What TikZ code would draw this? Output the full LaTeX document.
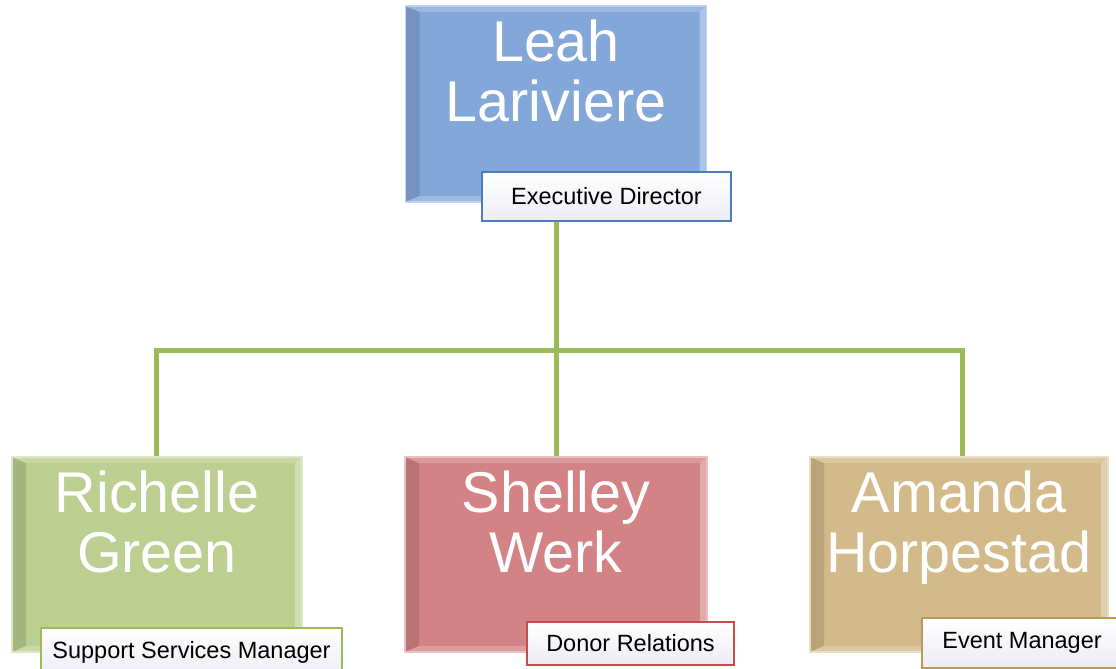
\documentclass[tikz,border=0pt]{standalone}
\usepackage{fontspec}
\setmainfont{Liberation Sans}
\usetikzlibrary{positioning}
\definecolor{leahblue}{HTML}{84A7DA}
\definecolor{richgreen}{HTML}{BCCE90}
\definecolor{shelred}{HTML}{D38385}
\definecolor{amantan}{HTML}{D2BA8A}
\definecolor{execline}{HTML}{4A7EBB}
\definecolor{suppline}{HTML}{9BBB59}
\definecolor{donorline}{HTML}{C0504D}
\definecolor{eventline}{HTML}{B89A5C}
\definecolor{linkgreen}{HTML}{9BBB59}
\definecolor{rolebottom}{HTML}{ECECF4}
\tikzset{
  person/.style={rectangle, minimum width=301pt, minimum height=196pt, inner sep=0pt,
    fill=#1, draw=#1!50!white, line width=1.2pt,
    path picture={
      \fill[#1!88!black] (path picture bounding box.south west) -- (path picture bounding box.north west)
        -- ([xshift=14pt,yshift=-6pt]path picture bounding box.north west)
        -- ([xshift=14pt,yshift=6pt]path picture bounding box.south west) -- cycle;
      \fill[#1!82!white] (path picture bounding box.north west) -- (path picture bounding box.north east)
        -- ([xshift=-7pt,yshift=-6pt]path picture bounding box.north east)
        -- ([xshift=14pt,yshift=-6pt]path picture bounding box.north west) -- cycle;
      \fill[#1!68!white] (path picture bounding box.north east) -- (path picture bounding box.south east)
        -- ([xshift=-7pt,yshift=6pt]path picture bounding box.south east)
        -- ([xshift=-7pt,yshift=-6pt]path picture bounding box.north east) -- cycle;
      \fill[#1!78!white] (path picture bounding box.south west) -- (path picture bounding box.south east)
        -- ([xshift=-7pt,yshift=6pt]path picture bounding box.south east)
        -- ([xshift=14pt,yshift=6pt]path picture bounding box.south west) -- cycle;
    }},
  nametext/.style={text=white, font=\fontsize{57.5}{60}\selectfont, align=center, inner sep=0pt, anchor=base},
  role/.style={draw=#1, line width=1.5pt, top color=white, bottom color=rolebottom, text=black,
    font=\fontsize{23.5}{28}\selectfont, inner sep=0pt},
  conn/.style={draw=linkgreen, line width=5pt}
}
\begin{document}
\begin{tikzpicture}[x=1pt,y=-1pt]
\useasboundingbox (0,0) rectangle (1116,669);
% boxes
\node[person=leahblue] (leah) at (556,104) {};
\node[person=richgreen, minimum width=290pt, minimum height=195pt] (richelle) at (157,554.5) {};
\node[person=shelred, minimum width=302pt, minimum height=195pt] (shelley) at (556,554.5) {};
\node[person=amantan, minimum width=298pt, minimum height=195pt] (amanda) at (959,554.5) {};
% connectors
\coordinate (hub) at (556,350);
\draw[conn] (leah.south) -- (shelley.north);
\draw[conn] (hub) -| ([xshift=-1pt]richelle.north);
\draw[conn] (hub) -| ([xshift=3pt]amanda.north);
% names (base = last line)
\node[nametext] (leahname) at ([yshift=-116pt]leah.north) {Leah\\Lariviere};
\node[nametext] (richname) at ([yshift=-116pt]richelle.north) {Richelle\\Green};
\node[nametext] (shelname) at ([yshift=-116pt]shelley.north) {Shelley\\Werk};
\node[nametext] (amanname) at ([yshift=-116pt]amanda.north) {Amanda\\Horpestad};
% roles
\node[role=execline, minimum width=249pt, minimum height=49pt] (execdir) at (606.5,196.5) {Executive Director};
\node[role=suppline, minimum width=301pt, minimum height=49pt] (suppmgr) at (191.5,652.5) {Support Services Manager};
\node[role=donorline, minimum width=207pt, minimum height=43pt] (donorrel) at (630.5,643.5) {Donor Relations};
\node[role=eventline, minimum width=200pt, minimum height=50pt] (eventmgr) at (1022,643) {Event Manager};
\end{tikzpicture}
\end{document}
